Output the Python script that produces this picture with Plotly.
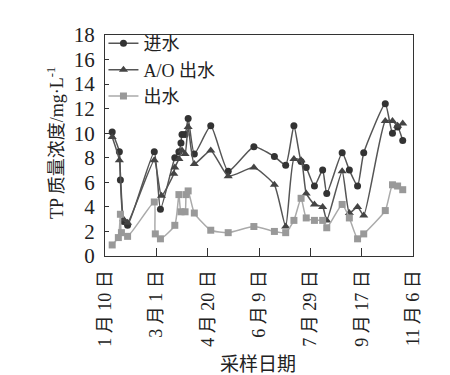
import plotly.graph_objects as go

# ---- data ----
inf_dates = ["2015-01-17", "2015-01-24", "2015-01-25", "2015-01-28", "2015-02-01",
             "2015-02-27", "2015-03-05", "2015-03-19", "2015-03-23", "2015-03-25",
             "2015-03-26", "2015-03-29", "2015-04-01", "2015-04-07", "2015-04-23",
             "2015-05-10", "2015-06-04", "2015-06-24", "2015-07-05", "2015-07-13",
             "2015-07-20", "2015-07-25", "2015-08-02", "2015-08-10", "2015-08-14",
             "2015-08-29", "2015-09-05", "2015-09-13", "2015-09-19", "2015-10-10",
             "2015-10-17", "2015-10-22", "2015-10-27"]
inf_vals = [10.1, 8.5, 6.2, 2.8, 2.5,
            8.5, 3.8, 8.0, 8.5, 9.2,
            9.9, 9.9, 11.2, 8.3, 10.6,
            6.9, 8.9, 8.1, 7.4, 10.6,
            7.7, 7.2, 5.7, 7.0, 5.1,
            8.4, 7.0, 5.7, 8.4, 12.4,
            10.0, 10.5, 9.4]

ao_dates = ["2015-01-17", "2015-01-24", "2015-01-28", "2015-02-01",
            "2015-02-27", "2015-03-06", "2015-03-18", "2015-03-19", "2015-03-23",
            "2015-03-26", "2015-03-29", "2015-04-01", "2015-04-07", "2015-04-23",
            "2015-05-10", "2015-06-04", "2015-06-24", "2015-07-05", "2015-07-13",
            "2015-07-20", "2015-07-25", "2015-08-02", "2015-08-10", "2015-08-14",
            "2015-08-29", "2015-09-05", "2015-09-13", "2015-09-19", "2015-10-10",
            "2015-10-17", "2015-10-22", "2015-10-27"]
ao_vals = [9.7, 7.8, 3.0, 2.7,
           7.8, 4.9, 6.7, 7.2, 7.9,
           8.6, 8.3, 10.5, 7.5, 8.6,
           6.5, 7.2, 5.8, 2.4, 7.9,
           7.8, 5.1, 4.2, 4.0, 2.9,
           6.9, 3.5, 4.0, 3.3, 11.0,
           11.0, 10.6, 10.8]

eff_dates = ["2015-01-17", "2015-01-23", "2015-01-25", "2015-01-26", "2015-02-01",
             "2015-02-27", "2015-02-28", "2015-03-05", "2015-03-19", "2015-03-23",
             "2015-03-25", "2015-03-29", "2015-03-30", "2015-04-01", "2015-04-07",
             "2015-04-23", "2015-05-10", "2015-06-04", "2015-06-24", "2015-07-05",
             "2015-07-13", "2015-07-20", "2015-07-25", "2015-08-02", "2015-08-10",
             "2015-08-14", "2015-08-29", "2015-09-05", "2015-09-13", "2015-09-19",
             "2015-10-10", "2015-10-17", "2015-10-22", "2015-10-27"]
eff_vals = [0.9, 1.5, 3.4, 1.9, 1.6,
            4.4, 1.8, 1.4, 2.5, 5.0,
            3.6, 3.6, 5.0, 5.3, 3.5,
            2.1, 1.9, 2.4, 2.0, 1.9,
            2.9, 4.7, 3.1, 2.9, 2.9,
            2.3, 4.2, 3.1, 1.4, 1.8,
            3.7, 5.8, 5.7, 5.4]

tick_dates = ["2015-01-10", "2015-03-01", "2015-04-20", "2015-06-09",
              "2015-07-29", "2015-09-17", "2015-11-06"]
tick_text = ["1 月 10 日", "3 月 1 日", "4 月 20 日", "6 月 9 日",
             "7 月 29 日", "9 月 17 日", "11 月 6 日"]
y_ticks = list(range(0, 19, 2))

FONT = "Liberation Serif, Noto Sans CJK SC, serif"

fig = go.Figure()
fig.add_trace(go.Scatter(
    x=inf_dates, y=inf_vals, name="进水", mode="lines+markers",
    line=dict(color="#555555", width=1.5, shape="spline", smoothing=0.5),
    marker=dict(symbol="circle", size=7, color="#333333")))
fig.add_trace(go.Scatter(
    x=ao_dates, y=ao_vals, name="A/O 出水", mode="lines+markers",
    line=dict(color="#555555", width=1.5, shape="spline", smoothing=0.5),
    marker=dict(symbol="triangle-up", size=8, color="#444444")))
fig.add_trace(go.Scatter(
    x=eff_dates, y=eff_vals, name="出水", mode="lines+markers",
    line=dict(color="#aaaaaa", width=1.5, shape="spline", smoothing=0.5),
    marker=dict(symbol="square", size=7, color="#999999")))

fig.update_layout(
    width=450, height=375,
    margin=dict(l=97, r=45, t=27, b=127),
    paper_bgcolor="white", plot_bgcolor="white",
    font=dict(family=FONT, size=18, color="#222222"),
    showlegend=True,
    legend=dict(x=-0.005, y=1.045, xanchor="left", yanchor="top",
                bgcolor="rgba(0,0,0,0)", font=dict(size=18, family=FONT),
                tracegroupgap=0, itemwidth=30),
    xaxis=dict(type="date", range=["2015-01-10", "2015-11-06"],
               tickmode="array", tickvals=tick_dates, ticktext=tick_text,
               tickangle=-90, ticks="inside", ticklen=8, tickcolor="#333",
               showline=True, linecolor="#333", linewidth=1, mirror=True,
               showgrid=False, zeroline=False, ticklabelstandoff=6,
               tickfont=dict(size=18, family=FONT)),
    yaxis=dict(range=[0, 18], tickmode="array", tickvals=y_ticks,
               ticks="inside", ticklen=4, tickcolor="#333",
               showline=True, linecolor="#333", linewidth=1, mirror=True,
               showgrid=False, zeroline=False, ticklabelstandoff=5,
               tickfont=dict(size=21, family=FONT)),
    annotations=[
        dict(text="TP 质量浓度/mg·L<sup>-1</sup>", xref="paper", yref="paper",
             x=-0.16, y=0.51, xanchor="center", yanchor="middle",
             textangle=-90, showarrow=False,
             font=dict(size=18, family=FONT)),
        dict(text="采样日期", xref="paper", yref="paper",
             x=0.497, y=-0.493, xanchor="center", yanchor="middle",
             showarrow=False, font=dict(size=19, family=FONT)),
    ],
)

fig.write_html("out.html")
